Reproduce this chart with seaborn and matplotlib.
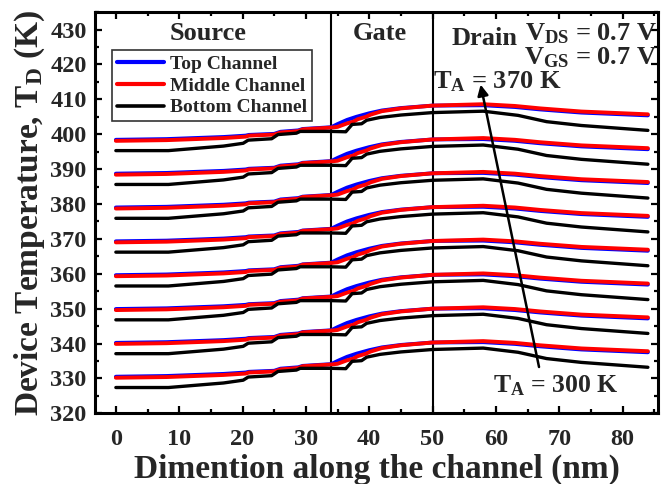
import matplotlib
matplotlib.use("Agg")
import matplotlib.pyplot as plt
from matplotlib.lines import Line2D
from matplotlib.ticker import MultipleLocator
import pandas as pd
import seaborn as sns

# Ambient temperatures (K), one curve per value for each channel
ambient = [300, 310, 320, 330, 340, 350, 360, 370]

# Positions along the channel (nm)
x_top = [0, 8, 17, 20.5, 21, 25, 26, 28.8, 29.5, 34, 35, 36.5, 38, 40, 42, 45,
         50, 58, 63, 67, 73.5, 84]
x_mid = [0, 8, 17, 20.5, 21, 25, 26, 28.8, 29.5, 34, 35, 36.5, 37.5, 38.2, 39.5,
         40.2, 42, 45, 50, 58, 63, 67, 73.5, 84]
x_bot = [0, 8.3, 17, 20.1, 20.9, 24.6, 25.6, 28.5, 29.1, 34, 36.3, 37.3, 38.8,
         39.6, 41.7, 45, 50, 58, 63.5, 66, 68, 73.5, 84]

# Device temperature T_D (K), rows follow `ambient`
top_channel = [
    [330.5, 330.7, 331.3, 331.7, 331.9, 332.2, 332.8, 333.2, 333.6, 334.1, 335.0, 336.2, 337.1, 338.1, 338.9, 339.6, 340.3, 340.4, 339.9, 339.2, 338.3, 337.5],
    [340.2, 340.4, 341.0, 341.4, 341.6, 341.9, 342.5, 342.9, 343.3, 343.8, 344.7, 345.9, 346.8, 347.8, 348.6, 349.3, 350.0, 350.1, 349.6, 348.9, 348.0, 347.2],
    [349.9, 350.1, 350.7, 351.1, 351.3, 351.6, 352.2, 352.6, 353.0, 353.5, 354.4, 355.6, 356.5, 357.5, 358.3, 359.0, 359.7, 359.8, 359.3, 358.6, 357.7, 356.9],
    [359.6, 359.8, 360.4, 360.8, 361.0, 361.3, 361.9, 362.3, 362.7, 363.2, 364.1, 365.3, 366.2, 367.2, 368.0, 368.7, 369.4, 369.5, 369.0, 368.3, 367.4, 366.6],
    [369.3, 369.5, 370.1, 370.5, 370.7, 371.0, 371.6, 372.0, 372.4, 372.9, 373.8, 375.0, 375.9, 376.9, 377.7, 378.4, 379.1, 379.2, 378.7, 378.0, 377.1, 376.3],
    [379.0, 379.2, 379.8, 380.2, 380.4, 380.7, 381.3, 381.7, 382.1, 382.6, 383.5, 384.7, 385.6, 386.6, 387.4, 388.1, 388.8, 388.9, 388.4, 387.7, 386.8, 386.0],
    [388.7, 388.9, 389.5, 389.9, 390.1, 390.4, 391.0, 391.4, 391.8, 392.3, 393.2, 394.4, 395.3, 396.3, 397.1, 397.8, 398.5, 398.6, 398.1, 397.4, 396.5, 395.7],
    [398.4, 398.6, 399.2, 399.6, 399.8, 400.1, 400.7, 401.1, 401.5, 402.0, 402.9, 404.1, 405.0, 406.0, 406.8, 407.5, 408.2, 408.3, 407.8, 407.1, 406.2, 405.4],
]
middle_channel = [
    [330.2, 330.4, 331.0, 331.4, 331.7, 332.0, 332.6, 333.0, 333.5, 334.0, 334.2, 335.2, 335.7, 336.4, 337.1, 337.7, 338.7, 339.5, 340.3, 340.7, 340.2, 339.5, 338.6, 337.8],
    [339.9, 340.1, 340.7, 341.1, 341.4, 341.7, 342.3, 342.7, 343.2, 343.7, 343.9, 344.9, 345.4, 346.1, 346.8, 347.4, 348.4, 349.2, 350.0, 350.4, 349.9, 349.2, 348.3, 347.5],
    [349.6, 349.8, 350.4, 350.8, 351.1, 351.4, 352.0, 352.4, 352.9, 353.4, 353.6, 354.6, 355.1, 355.8, 356.5, 357.1, 358.1, 358.9, 359.7, 360.1, 359.6, 358.9, 358.0, 357.2],
    [359.3, 359.5, 360.1, 360.5, 360.8, 361.1, 361.7, 362.1, 362.6, 363.1, 363.3, 364.3, 364.8, 365.5, 366.2, 366.8, 367.8, 368.6, 369.4, 369.8, 369.3, 368.6, 367.7, 366.9],
    [369.0, 369.2, 369.8, 370.2, 370.5, 370.8, 371.4, 371.8, 372.3, 372.8, 373.0, 374.0, 374.5, 375.2, 375.9, 376.5, 377.5, 378.3, 379.1, 379.5, 379.0, 378.3, 377.4, 376.6],
    [378.7, 378.9, 379.5, 379.9, 380.2, 380.5, 381.1, 381.5, 382.0, 382.5, 382.7, 383.7, 384.2, 384.9, 385.6, 386.2, 387.2, 388.0, 388.8, 389.2, 388.7, 388.0, 387.1, 386.3],
    [388.4, 388.6, 389.2, 389.6, 389.9, 390.2, 390.8, 391.2, 391.7, 392.2, 392.4, 393.4, 393.9, 394.6, 395.3, 395.9, 396.9, 397.7, 398.5, 398.9, 398.4, 397.7, 396.8, 396.0],
    [398.1, 398.3, 398.9, 399.3, 399.6, 399.9, 400.5, 400.9, 401.4, 401.9, 402.1, 403.1, 403.6, 404.3, 405.0, 405.6, 406.6, 407.4, 408.2, 408.6, 408.1, 407.4, 406.5, 405.7],
]
bottom_channel = [
    [327.4, 327.4, 328.7, 329.5, 330.4, 330.8, 332.0, 332.4, 332.9, 332.9, 332.8, 334.9, 335.1, 336.1, 336.9, 337.6, 338.3, 338.7, 337.5, 336.5, 335.7, 334.6, 333.2],
    [337.1, 337.1, 338.4, 339.2, 340.1, 340.5, 341.7, 342.1, 342.6, 342.6, 342.5, 344.6, 344.8, 345.8, 346.6, 347.3, 348.0, 348.4, 347.2, 346.2, 345.4, 344.3, 342.9],
    [346.8, 346.8, 348.1, 348.9, 349.8, 350.2, 351.4, 351.8, 352.3, 352.3, 352.2, 354.3, 354.5, 355.5, 356.3, 357.0, 357.7, 358.1, 356.9, 355.9, 355.1, 354.0, 352.6],
    [356.5, 356.5, 357.8, 358.6, 359.5, 359.9, 361.1, 361.5, 362.0, 362.0, 361.9, 364.0, 364.2, 365.2, 366.0, 366.7, 367.4, 367.8, 366.6, 365.6, 364.8, 363.7, 362.3],
    [366.2, 366.2, 367.5, 368.3, 369.2, 369.6, 370.8, 371.2, 371.7, 371.7, 371.6, 373.7, 373.9, 374.9, 375.7, 376.4, 377.1, 377.5, 376.3, 375.3, 374.5, 373.4, 372.0],
    [375.9, 375.9, 377.2, 378.0, 378.9, 379.3, 380.5, 380.9, 381.4, 381.4, 381.3, 383.4, 383.6, 384.6, 385.4, 386.1, 386.8, 387.2, 386.0, 385.0, 384.2, 383.1, 381.7],
    [385.6, 385.6, 386.9, 387.7, 388.6, 389.0, 390.2, 390.6, 391.1, 391.1, 391.0, 393.1, 393.3, 394.3, 395.1, 395.8, 396.5, 396.9, 395.7, 394.7, 393.9, 392.8, 391.4],
    [395.3, 395.3, 396.6, 397.4, 398.3, 398.7, 399.9, 400.3, 400.8, 400.8, 400.7, 402.8, 403.0, 404.0, 404.8, 405.5, 406.2, 406.6, 405.4, 404.4, 403.6, 402.5, 401.1],
]

channel_names = ["Top Channel", "Middle Channel", "Bottom Channel"]
channel_colors = ["#0000ff", "#ff0000", "#000000"]
channel_widths = [2.8, 2.8, 2.4]
gate_edges = [34, 50]


def long_frame(xs, rows):
    recs = []
    for ta, row in zip(ambient, rows):
        for xv, tv in zip(xs, row):
            recs.append({"x": xv, "T": tv, "ambient": ta})
    return pd.DataFrame(recs)


sns.set_theme(style="ticks")
plt.rcParams["font.family"] = ["Liberation Serif", "DejaVu Serif"]
plt.rcParams["font.weight"] = "bold"
plt.rcParams["mathtext.fontset"] = "custom"
plt.rcParams["mathtext.rm"] = "Liberation Serif:bold"
plt.rcParams["mathtext.it"] = "Liberation Serif:bold"
plt.rcParams["mathtext.bf"] = "Liberation Serif:bold"

fig = plt.figure(figsize=(6.64, 4.84), dpi=100)
ax = fig.add_axes([0.143, 0.146, 0.848, 0.829])

series = [(x_top, top_channel), (x_mid, middle_channel), (x_bot, bottom_channel)]
for (xs, rows), color, lw in zip(series, channel_colors, channel_widths):
    sns.lineplot(data=long_frame(xs, rows), x="x", y="T", units="ambient",
                 estimator=None, sort=False, color=color, linewidth=lw,
                 legend=False, ax=ax)

for xe in gate_edges:
    ax.axvline(xe, color="black", lw=1.5, zorder=1)

ax.set_xlim(-3.3, 85.6)
ax.set_ylim(320, 435)
ax.xaxis.set_major_locator(MultipleLocator(10))
ax.xaxis.set_minor_locator(MultipleLocator(5))
ax.yaxis.set_major_locator(MultipleLocator(10))
ax.yaxis.set_minor_locator(MultipleLocator(5))
ax.tick_params(which="both", direction="in", top=True, right=True,
               labelsize=17.5, width=1.6, color="black")
ax.tick_params(axis="y", pad=6)
ax.tick_params(axis="x", pad=11)
ax.tick_params(which="major", length=5)
ax.tick_params(which="minor", length=3)
for lab in ax.get_xticklabels() + ax.get_yticklabels():
    lab.set_fontweight("bold")
for sp in ax.spines.values():
    sp.set_linewidth(2.2)
    sp.set_color("black")

ax.set_xlabel("Dimention along the channel (nm)", fontsize=24,
              fontweight="bold", labelpad=3)
ax.set_ylabel(r"Device Temperature, T$_\mathrm{D}$ (K)", fontsize=24,
              fontweight="bold", labelpad=2)

ax.text(14.5, 427.0, "Source", fontsize=19, fontweight="bold",
        ha="center", va="baseline")
ax.text(41.7, 427.0, "Gate", fontsize=19, fontweight="bold",
        ha="center", va="baseline")
ax.text(53.0, 425.6, "Drain", fontsize=19, fontweight="bold",
        ha="left", va="baseline")
ax.text(85.4, 426.8, r"V$_\mathrm{DS}$ = 0.7 V", fontsize=19,
        fontweight="bold", ha="right", va="baseline")
ax.text(85.4, 420.0, r"V$_\mathrm{GS}$ = 0.7 V", fontsize=19,
        fontweight="bold", ha="right", va="baseline")
ax.text(50.1, 413.0, r"T$_\mathrm{A}$ = 370 K", fontsize=19,
        fontweight="bold", ha="left", va="baseline")
ax.text(59.6, 326.0, r"T$_\mathrm{A}$ = 300 K", fontsize=18.5,
        fontweight="bold", ha="left", va="baseline")
ax.annotate("", xy=(57.5, 415.0), xytext=(66.9, 332.5),
            arrowprops=dict(arrowstyle="-|>", color="black", lw=1.8,
                            mutation_scale=16))

handles = [Line2D([0], [0], color=c, lw=lw + 0.2)
           for c, lw in zip(channel_colors, channel_widths)]
leg = ax.legend(handles, channel_names, loc="upper left",
                bbox_to_anchor=(0.031, 0.905), fontsize=14,
                frameon=True, fancybox=False, handlelength=2.4,
                handletextpad=0.3, borderpad=0.25, labelspacing=0.22,
                borderaxespad=0)
leg.get_frame().set_edgecolor("black")
leg.get_frame().set_linewidth(1.2)
for t in leg.get_texts():
    t.set_fontweight("bold")

fig.savefig("out.png", dpi=100)
